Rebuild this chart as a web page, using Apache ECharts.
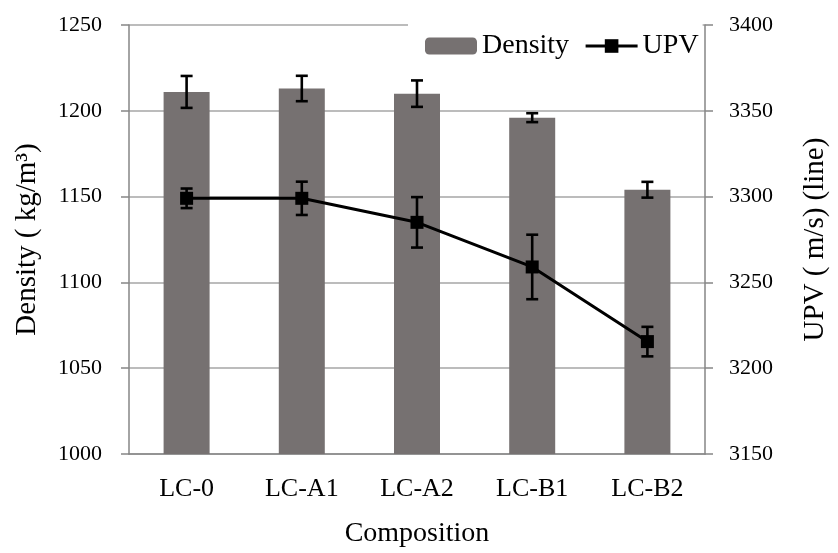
<!DOCTYPE html>
<html>
<head>
<meta charset="utf-8">
<script src="https://cdn.jsdelivr.net/npm/echarts@6/dist/echarts.min.js"></script>
<style>
  html, body { margin: 0; padding: 0; background: #ffffff; }
  #chart { width: 838px; height: 553px; }
</style>
</head>
<body>
<div id="chart"></div>
<script>
// Mix compositions on the category axis
const categories = ['LC-0', 'LC-A1', 'LC-A2', 'LC-B1', 'LC-B2'];

// Bulk density (kg/m3) with standard deviation
const density = [1211, 1213, 1210, 1196, 1154];
const densityErr = [9.3, 7.4, 7.7, 2.6, 4.6];

// Ultrasonic pulse velocity (m/s) with standard deviation
const upv = [3299, 3299, 3285, 3259, 3215.5];
const upvErr = [5.7, 9.7, 14.7, 18.8, 8.6];

// Tick values of the two value axes
const densityTicks = [1000, 1050, 1100, 1150, 1200, 1250];
const upvTicks = [3150, 3200, 3250, 3300, 3350, 3400];

const FONT = '"Liberation Serif", "Times New Roman", serif';
const AXIS_GREY = '#868686';
const GRID_GREY = '#a6a6a6';
const BAR_COLOR = '#767171';

// Error bar: vertical whisker with horizontal caps, drawn in axis coordinates
function errorBarItem(params, api) {
  const i = api.value(0);
  const lo = api.coord([i, api.value(1)]);
  const hi = api.coord([i, api.value(2)]);
  const half = 6;
  const style = { stroke: '#000000', lineWidth: 2.6, fill: null };
  return {
    type: 'group',
    children: [
      { type: 'line', shape: { x1: lo[0], y1: lo[1], x2: hi[0], y2: hi[1] }, style: style },
      { type: 'line', shape: { x1: lo[0] - half, y1: lo[1], x2: lo[0] + half, y2: lo[1] }, style: style },
      { type: 'line', shape: { x1: hi[0] - half, y1: hi[1], x2: hi[0] + half, y2: hi[1] }, style: style }
    ]
  };
}

const densityRanges = categories.map((c, i) => [i, density[i] - densityErr[i], density[i] + densityErr[i]]);
const upvRanges = categories.map((c, i) => [i, upv[i] - upvErr[i], upv[i] + upvErr[i]]);

// Plain integers on the value axes (no thousands separator)
const plain = (v) => String(v);

const chart = echarts.init(document.getElementById('chart'), null, { renderer: 'canvas' });

chart.setOption({
  animation: false,
  backgroundColor: '#ffffff',
  textStyle: { fontFamily: FONT, color: '#000000' },
  grid: { left: 129, right: 125, top: 25, bottom: 95, containLabel: false },
  legend: {
    data: ['Density', 'UPV'],
    left: 408,
    top: 20,
    padding: [12, 4, 10, 17],
    backgroundColor: '#ffffff',
    itemWidth: 52,
    itemHeight: 17,
    itemGap: 15,
    lineStyle: { width: 3 },
    textStyle: { fontFamily: FONT, fontSize: 28, color: '#000000' }
  },
  xAxis: {
    type: 'category',
    data: categories,
    boundaryGap: true,
    axisLine: { show: true, lineStyle: { color: AXIS_GREY, width: 1.5 } },
    axisTick: { show: false },
    axisLabel: { fontFamily: FONT, fontSize: 26, color: '#000000', margin: 22 },
    name: 'Composition',
    nameLocation: 'middle',
    nameGap: 66,
    nameTextStyle: { fontFamily: FONT, fontSize: 28, color: '#000000' }
  },
  yAxis: [
    {
      type: 'value',
      position: 'left',
      min: densityTicks[0],
      max: densityTicks[densityTicks.length - 1],
      interval: densityTicks[1] - densityTicks[0],
      axisLine: { show: true, lineStyle: { color: AXIS_GREY, width: 1.5 } },
      axisTick: { show: true, length: 8, lineStyle: { color: AXIS_GREY, width: 1.5 } },
      splitLine: { show: true, lineStyle: { color: GRID_GREY, width: 1.5 } },
      axisLabel: { fontFamily: FONT, fontSize: 22, color: '#000000', margin: 27, formatter: plain },
      name: 'Density ( kg/m³)',
      nameLocation: 'middle',
      nameGap: 87,
      nameTextStyle: { fontFamily: FONT, fontSize: 29, color: '#000000' }
    },
    {
      type: 'value',
      position: 'right',
      z: 6,
      min: upvTicks[0],
      max: upvTicks[upvTicks.length - 1],
      interval: upvTicks[1] - upvTicks[0],
      axisLine: { show: true, lineStyle: { color: AXIS_GREY, width: 1.5 } },
      axisTick: { show: true, length: 8, lineStyle: { color: AXIS_GREY, width: 1.5 } },
      splitLine: { show: false },
      axisLabel: { fontFamily: FONT, fontSize: 22, color: '#000000', margin: 24, formatter: plain },
      name: 'UPV ( m/s) (line)',
      nameLocation: 'middle',
      nameGap: 96,
      nameTextStyle: { fontFamily: FONT, fontSize: 29, color: '#000000' }
    }
  ],
  series: [
    {
      name: 'Density',
      type: 'bar',
      yAxisIndex: 0,
      data: density,
      barWidth: 46,
      itemStyle: { color: BAR_COLOR },
      z: 2
    },
    {
      name: 'UPV',
      type: 'line',
      yAxisIndex: 1,
      data: upv,
      symbol: 'rect',
      symbolSize: 13,
      lineStyle: { color: '#000000', width: 3 },
      itemStyle: { color: '#000000' },
      z: 4
    },
    {
      name: 'Density error',
      type: 'custom',
      yAxisIndex: 0,
      data: densityRanges,
      renderItem: errorBarItem,
      z: 5
    },
    {
      name: 'UPV error',
      type: 'custom',
      yAxisIndex: 1,
      data: upvRanges,
      renderItem: errorBarItem,
      z: 5
    }
  ]
});
</script>
</body>
</html>
